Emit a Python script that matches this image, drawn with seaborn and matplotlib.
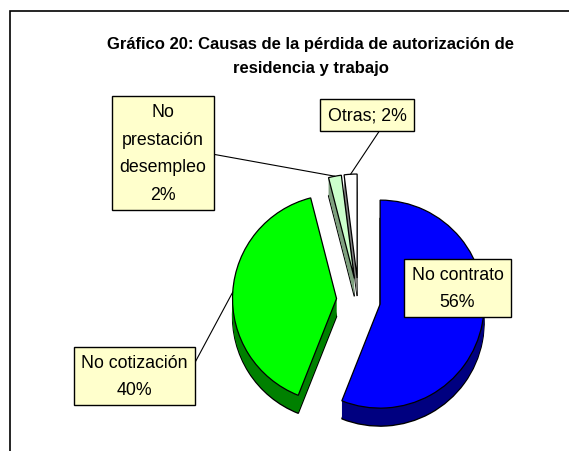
import numpy as np
import matplotlib
matplotlib.use("Agg")
import matplotlib.pyplot as plt
from matplotlib.patches import Rectangle
import seaborn as sns

# --------------------------------------------------
# DATA
# --------------------------------------------------

causes = ["No contrato", "No cotización", "No prestación\ndesempleo", "Otras"]
shares = [56, 40, 2, 2]
label_texts = ["No contrato\n56%", "No cotización\n40%", "No\nprestación\ndesempleo\n2%", "Otras; 2%"]

top_colors = sns.color_palette(["#0000FF", "#00FF00", "#CCFFCC", "#FFFFFF"])
side_colors = sns.color_palette(["#000080", "#008000", "#7FA07F", "#808080"])

title = "Gráfico 20: Causas de la pérdida de autorización de\nresidencia y trabajo"

# --------------------------------------------------
# STYLE
# --------------------------------------------------

sns.set_theme(style="white")
plt.rcParams["font.family"] = ["Liberation Sans Narrow", "Liberation Sans", "DejaVu Sans"]
plt.rcParams["text.color"] = "black"

fig = plt.figure(figsize=(5.69, 4.52), dpi=100)
ax = fig.add_axes([0, 0, 1, 1])

# pie geometry in pixel-like data units (explode is in data units too)
cx, cy = 358.5, 151
radius = 104
depth = 18
explode = [22, 22, 22, 22]

# 3D side: stack darker copies below the top face
for k in range(depth, 0, -1):
    ax.pie(
        shares,
        colors=side_colors,
        startangle=90,
        counterclock=False,
        explode=explode,
        center=(cx, cy - k),
        radius=radius,
        frame=True,
        wedgeprops=dict(edgecolor="black" if k == depth else "none", linewidth=1),
    )

wedges, _ = ax.pie(
    shares,
    colors=top_colors,
    startangle=90,
    counterclock=False,
    explode=explode,
    center=(cx, cy),
    radius=radius,
    frame=True,
    wedgeprops=dict(edgecolor="black", linewidth=0.9),
)

# --------------------------------------------------
# LABELS (callout boxes)
# --------------------------------------------------

label_pos = [(457.5, 163), (134.5, 75), (163, 298), (367, 336)]
leader = [False, True, True, True]
relpos = [(0.5, 0.5), (1.0, 0.5), (1.0, 0.5), (0.72, 0.0)]

for w, txt, pos, show, rp in zip(wedges, label_texts, label_pos, leader, relpos):
    mid = np.deg2rad((w.theta1 + w.theta2) / 2)
    tip = (w.center[0] + w.r * np.cos(mid), w.center[1] + w.r * np.sin(mid))
    ax.annotate(
        txt,
        xy=tip,
        xytext=pos,
        ha="center",
        va="center",
        fontsize=12.8,
        linespacing=1.8,
        bbox=dict(boxstyle="square,pad=0.4", fc="#FFFFCC", ec="black", lw=1),
        arrowprops=dict(arrowstyle="-", color="black", lw=0.8,
                        shrinkA=0, shrinkB=0, relpos=rp) if show else None,
    )

ax.text(311, 395, title, ha="center", va="center", fontsize=12,
        fontweight="bold", linespacing=1.75)

# chart border
ax.add_patch(Rectangle((10, -20), 600, 460, fill=False, ec="black", lw=1.2))

ax.set_xlim(0, 569)
ax.set_ylim(0, 452)
ax.set_aspect("auto")
ax.set_axis_off()

fig.savefig("out.png", dpi=100)
